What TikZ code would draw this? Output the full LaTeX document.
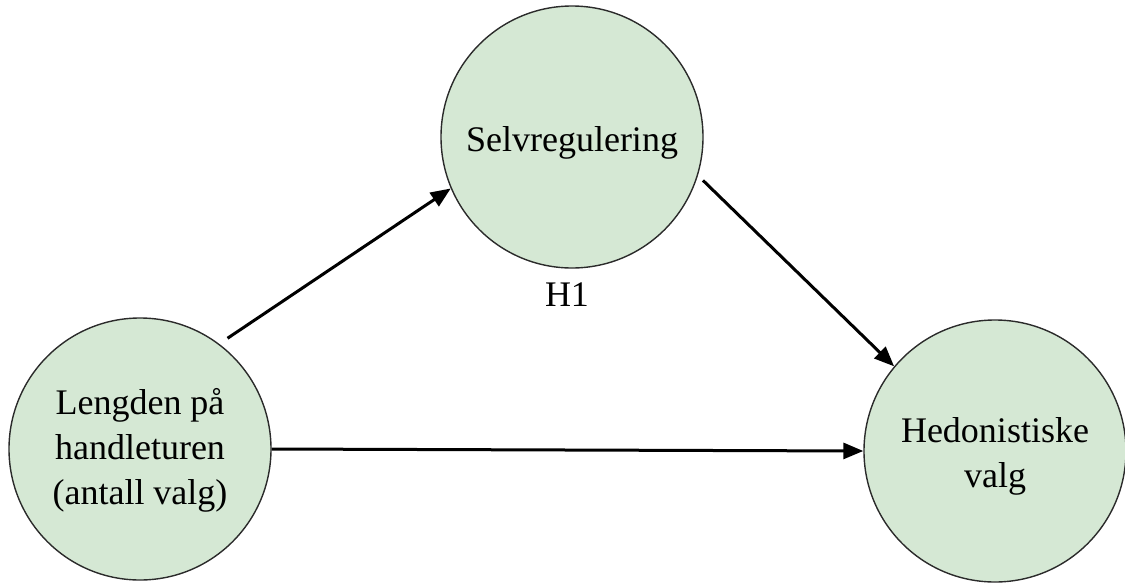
\documentclass[tikz,border=0pt]{standalone}
\usepackage{fontspec}
\setmainfont{Liberation Serif}
\usetikzlibrary{arrows.meta}
\definecolor{nodefill}{HTML}{D5E8D4}
\definecolor{nodeline}{HTML}{2B2B2B}
\tikzset{
  var/.style={circle, draw=nodeline, fill=nodefill, line width=1.4pt, minimum size=262pt, inner sep=0pt},
  txt/.style={align=center, inner sep=0pt, font=\fontsize{36}{45}\selectfont},
  conn/.style={line width=3pt, -{Triangle[length=20pt,width=16pt]}},
}
\begin{document}
\begin{tikzpicture}[x=1pt,y=-1pt]
\useasboundingbox (0,0) rectangle (1125,582);
\node[var, label={[txt, yshift=-1pt]center:Lengden på\\handleturen\\(antall valg)}] (L) at (140,449) {};
\node[var, label={[txt, yshift=-6pt]center:Selvregulering}] (T) at (572,137) {};
\node[var, label={[txt, yshift=-5pt]center:Hedonistiske\\valg}] (R) at (995,451) {};
\node[txt] (H) at (567,295) {H1};
\draw[conn, shorten <=10pt] (L.53) -- (T.203);
\draw[conn, shorten <=7pt] (T.-17) -- (R.140);
\draw[conn] (L.east) -- (R.west);
\end{tikzpicture}
\end{document}
